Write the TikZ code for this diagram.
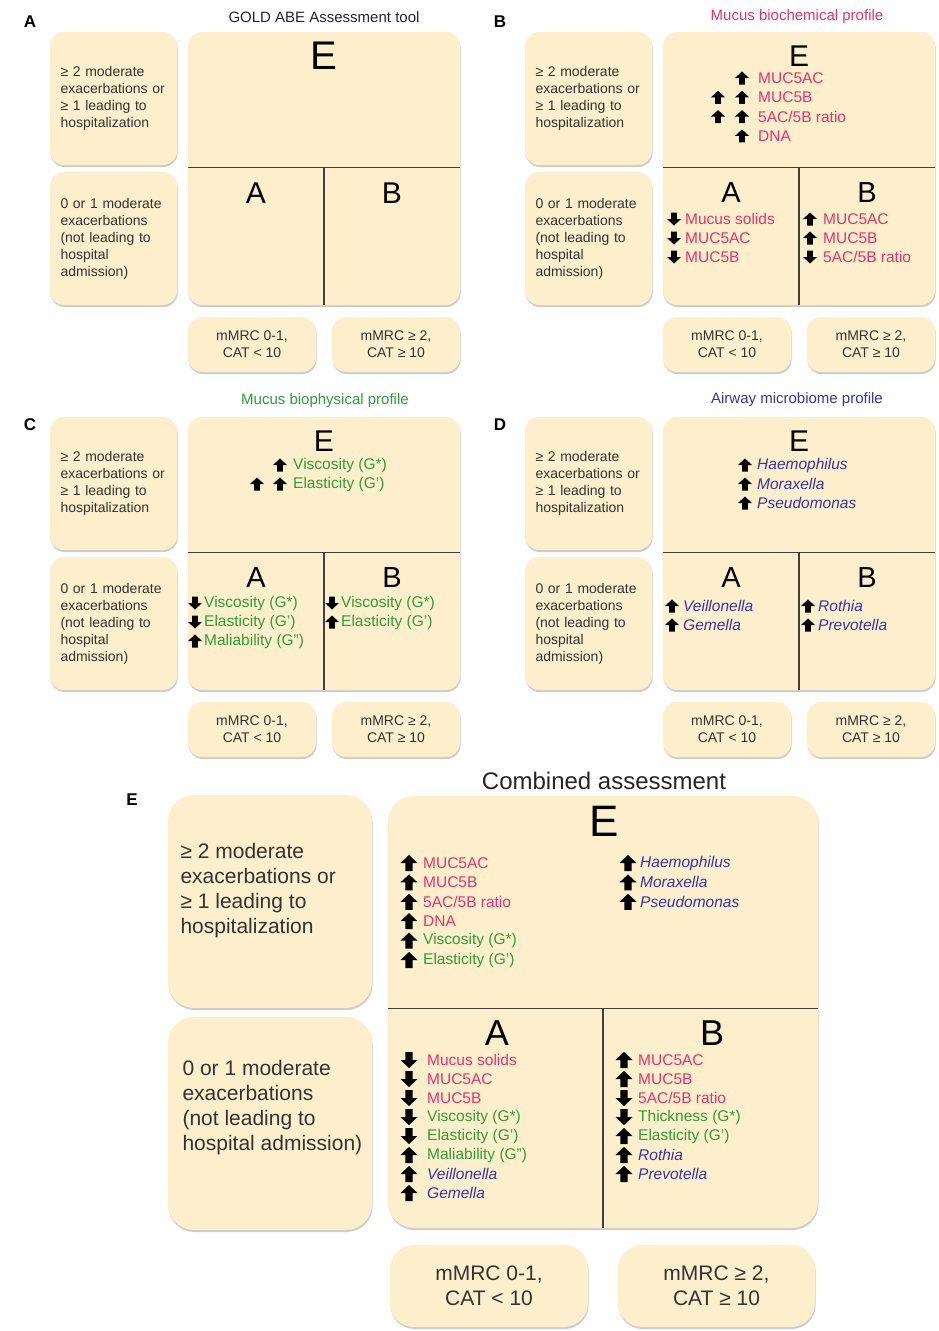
\documentclass[tikz,border=0pt]{standalone}
\usepackage{fontspec}
\setmainfont{Liberation Sans}
\usetikzlibrary{positioning,shadows,calc}

\definecolor{paper}{HTML}{FDEFCC}
\definecolor{biochem}{HTML}{E4336F}
\definecolor{biophys}{HTML}{2E9E3A}
\definecolor{microbe}{HTML}{3535A5}

\newcommand{\cellfont}{\fontsize{14}{17}\selectfont}
\newcommand{\listfont}{\fontsize{15.5}{19}\selectfont}
\newcommand{\bigcellfont}{\fontsize{21}{25}\selectfont}

\tikzset{
  pane/.style={fill=paper, rounded corners=14pt, text=black!80,
    drop shadow={shadow xshift=0.6pt, shadow yshift=-2pt, opacity=0.4}},
  divider/.style={draw=black!75, line width=1.3pt},
  item/.style={anchor=west, inner sep=0pt, font=\listfont},
  bio/.style={text=biochem},
  phys/.style={text=biophys},
  micro/.style={text=microbe, font=\listfont\itshape},
  grade/.style={font=\fontsize{28}{28}\selectfont, inner sep=0pt},
  panel/.style={font=\fontsize{17}{17}\selectfont\bfseries},
  title/.style={font=\fontsize{15}{15}\selectfont},
  uparrow/.pic={\fill (0,-0.5) -- (0.5,0) -- (0.21,0) -- (0.21,0.5) -- (-0.21,0.5)
    -- (-0.21,0) -- (-0.5,0) -- cycle;},
  small/.style={xscale=14, yscale=13},
  large/.style={xscale=17, yscale=16},
}

% exacerbation boxes, E/A/B grid and symptom boxes of one small panel
\newcommand{\abeframe}[2]{%
  \node[pane, minimum width=127, minimum height=133, text width=106, align=left,
    font=\cellfont] (hi) at (113.5,98.5)
    {≥ 2 moderate\\ exacerbations or\\ ≥ 1 leading to\\ hospitalization};
  \node[pane, minimum width=127, minimum height=133, text width=106, align=left,
    font=\cellfont] (lo) at (113.5,238.5)
    {0 or 1 moderate\\ exacerbations\\ (not leading to\\ hospital\\ admission)};
  \node[pane, minimum width=272, minimum height=273] (grid) at (324,168.5) {};
  \coordinate (gap) at ($(hi.south)!0.3!(lo.north)$);
  \draw[divider] (grid.west |- gap) -- (grid.east |- gap);
  \draw[divider] (grid.center |- gap) -- (grid.south);
  \node[grade, font=\fontsize{#1}{#1}\selectfont] (e) at (324,56) {E};
  \node[grade, font=\fontsize{#2}{#2}\selectfont] (a) at (256,193) {A};
  \node[grade, font=\fontsize{#2}{#2}\selectfont] (b) at (392,193) {B};
  \node[pane, minimum width=128, minimum height=55, align=center, font=\cellfont]
    (mild) at (252,344.5) {mMRC 0-1,\\ CAT < 10};
  \node[pane, minimum width=128, minimum height=55, align=center, font=\cellfont]
    (severe) at (396,344.5) {mMRC ≥ 2,\\ CAT ≥ 10};
}

\begin{document}
\begin{tikzpicture}[x=1pt, y=-1pt]
  \fill[white] (0,0) rectangle (938,1331);
  \useasboundingbox (0,0) rectangle (938,1331);

  \node[panel] at (30,22) {A};
  \node[panel] at (500,22) {B};
  \node[panel] at (30,425) {C};
  \node[panel] at (500,425) {D};
  \node[panel] at (132,800) {E};

  % GOLD tool
  \begin{scope}[name prefix=a-]
    \node[title, text=black!85] at (324,17) {GOLD ABE Assessment tool};
    \abeframe{40}{30}
  \end{scope}

  % biochemistry
  \begin{scope}[shift={(475,0)}, name prefix=b-]
    \node[title, text=biochem] at (322,17) {Mucus biochemical profile};
    \abeframe{30}{29}
    \foreach \txt [count=\i from 0] in {MUC5AC, MUC5B, {5AC/5B ratio}, DNA}
      {\pic[small] at (267,78+19.3*\i) {uparrow};
       \node[item, bio] at (283,78+19.3*\i) {\txt};}
    \pic[small] at (243,97.3) {uparrow};
    \pic[small] at (243,116.6) {uparrow};
    \foreach \txt [count=\i from 0] in {Mucus solids, MUC5AC, MUC5B}
      {\pic[small, rotate=180] at (199,219+19*\i) {uparrow};
       \node[item, bio] at (210,219+19*\i) {\txt};}
    \foreach \ang/\txt [count=\i from 0] in {0/MUC5AC, 0/MUC5B, 180/{5AC/5B ratio}}
      {\pic[small, rotate=\ang] at (335,219+19*\i) {uparrow};
       \node[item, bio] at (348,219+19*\i) {\txt};}
  \end{scope}

  % rheology
  \begin{scope}[shift={(0,385)}, name prefix=c-]
    \node[title, text=biophys] at (325,16) {Mucus biophysical profile};
    \abeframe{30}{29}
    \pic[small] at (280,80) {uparrow};
    \node[item, phys] at (293,80) {Viscosity (G*)};
    \pic[small] at (257,99) {uparrow};
    \pic[small] at (280,99) {uparrow};
    \node[item, phys] at (293,99) {Elasticity (G’)};
    \foreach \ang/\txt [count=\i from 0] in
      {180/Viscosity (G*), 180/Elasticity (G’), 0/Maliability (G”)}
      {\pic[small, rotate=\ang] at (195,218+19*\i) {uparrow};
       \node[item, phys] at (204,218+19*\i) {\txt};}
    \foreach \ang/\txt [count=\i from 0] in {180/Viscosity (G*), 0/Elasticity (G’)}
      {\pic[small, rotate=\ang] at (332,218+19*\i) {uparrow};
       \node[item, phys] at (341,218+19*\i) {\txt};}
  \end{scope}

  % microbiome
  \begin{scope}[shift={(475,385)}, name prefix=d-]
    \node[title, text=microbe] at (322,15) {Airway microbiome profile};
    \abeframe{30}{29}
    \foreach \txt [count=\i from 0] in {Haemophilus, Moraxella, Pseudomonas}
      {\pic[small] at (270,80+19*\i) {uparrow};
       \node[item, micro] at (282,80+19*\i) {\txt};}
    \foreach \txt [count=\i from 0] in {Veillonella, Gemella}
      {\pic[small] at (197,221+19*\i) {uparrow};
       \node[item, micro] at (208,221+19*\i) {\txt};}
    \foreach \txt [count=\i from 0] in {Rothia, Prevotella}
      {\pic[small] at (333,221+19*\i) {uparrow};
       \node[item, micro] at (343,221+19*\i) {\txt};}
  \end{scope}

  % combined assessment
  \node[font=\fontsize{24}{24}\selectfont, text=black!85] at (604,781) {Combined assessment};
  \node[pane, rounded corners=26pt, minimum width=204, minimum height=213] (hi) at (270,901.5) {};
  \node[pane, rounded corners=26pt, minimum width=204, minimum height=213] (lo) at (270,1123.5) {};
  \node[anchor=west, align=left, font=\bigcellfont, text=black!80] at (177,891)
    {≥ 2 moderate\\ exacerbations or\\ ≥ 1 leading to\\ hospitalization};
  \node[anchor=west, align=left, font=\bigcellfont, text=black!80] at (179,1108)
    {0 or 1 moderate\\ exacerbations\\ (not leading to\\ hospital admission)};
  \node[pane, rounded corners=26pt, minimum width=430, minimum height=432] (grid) at (603,1012) {};
  \draw[divider] (grid.west |- hi.south) -- (grid.east |- hi.south);
  \draw[divider] (grid.center |- hi.south) -- (grid.south);
  \node[grade, font=\fontsize{44}{44}\selectfont] at (604,821) {E};
  \node[grade, font=\fontsize{36}{36}\selectfont] at (497,1033) {A};
  \node[grade, font=\fontsize{36}{36}\selectfont] at (712,1033) {B};

  \foreach \kind/\txt [count=\i from 0] in
    {bio/MUC5AC, bio/MUC5B, bio/{5AC/5B ratio}, bio/DNA, phys/Viscosity (G*), phys/Elasticity (G’)}
    {\pic[large] at (409,863+19.4*\i) {uparrow};
     \node[item, \kind] at (423,863+19.4*\i) {\txt};}
  \foreach \txt [count=\i from 0] in {Haemophilus, Moraxella, Pseudomonas}
    {\pic[large] at (628,863+19.4*\i) {uparrow};
     \node[item, micro] at (640,863+19.4*\i) {\txt};}
  \foreach \ang/\kind/\txt [count=\i from 0] in
    {180/bio/Mucus solids, 180/bio/MUC5AC, 180/bio/MUC5B, 180/phys/Viscosity (G*),
     180/phys/Elasticity (G’), 0/phys/Maliability (G”), 0/micro/Veillonella, 0/micro/Gemella}
    {\pic[large, rotate=\ang] at (409,1060+19*\i) {uparrow};
     \node[item, \kind] at (427,1060+19*\i) {\txt};}
  \foreach \ang/\kind/\txt [count=\i from 0] in
    {0/bio/MUC5AC, 0/bio/MUC5B, 180/bio/{5AC/5B ratio}, 180/phys/Thickness (G*),
     0/phys/Elasticity (G’), 0/micro/Rothia, 0/micro/Prevotella}
    {\pic[large, rotate=\ang] at (624,1060+19*\i) {uparrow};
     \node[item, \kind] at (638,1060+19*\i) {\txt};}

  \node[pane, rounded corners=24pt, minimum width=198, minimum height=82, align=center,
    font=\bigcellfont] (mild) at (489,1286) {mMRC 0-1,\\ CAT < 10};
  \node[pane, rounded corners=24pt, minimum width=197, minimum height=82, align=center,
    font=\bigcellfont] (severe) at (716.5,1286) {mMRC ≥ 2,\\ CAT ≥ 10};
\end{tikzpicture}
\end{document}
